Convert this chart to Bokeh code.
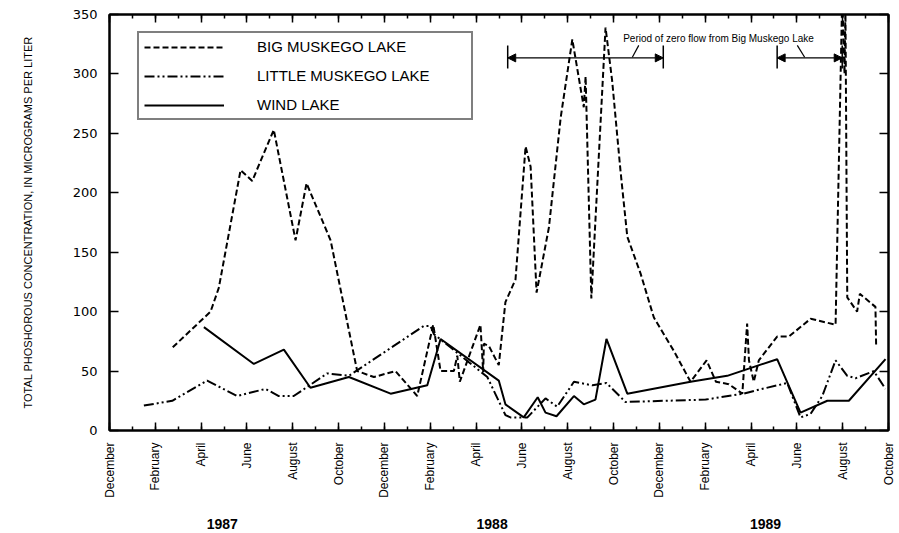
from math import pi
from bokeh.plotting import figure
from bokeh.models import (Range1d, LinearAxis, FixedTicker, Legend, LegendItem,
                          Arrow, NormalHead, Label)
from bokeh.embed import file_html
from bokeh.resources import INLINE

# x positions are months since 1 December 1986
tick_months = list(range(0, 35, 2))
tick_labels = ["December", "February", "April", "June", "August", "October",
               "December", "February", "April", "June", "August", "October",
               "December", "February", "April", "June", "August", "October"]
year_pos = [4.92, 16.7, 28.63]
year_labels = ["1987", "1988", "1989"]

big_x = [2.76, 4.41, 4.77, 5.72, 6.23, 7.17, 8.12, 8.60, 9.65, 10.81, 11.54, 12.48,
         13.43, 14.13, 14.45, 15.03, 15.18, 15.29, 16.19, 16.31, 16.34, 16.56, 16.99,
         17.28, 17.72, 18.16, 18.38, 18.64, 19.18, 19.69, 20.20, 20.70, 20.78, 21.03,
         21.65, 21.94, 22.30, 22.60, 23.18, 23.76, 24.63, 25.36, 26.06, 26.47, 27.03,
         27.62, 27.83, 27.91, 28.12, 28.34, 29.14, 29.65, 30.60, 31.69, 31.98, 32.08,
         32.12, 32.20, 32.63, 32.75, 33.43, 33.46]
big_y = [70, 100, 120, 219, 210, 253, 160, 208, 160, 50, 45, 50,
         29, 89, 50, 50, 63, 41, 89, 49, 73, 71, 55,
         108, 127, 239, 222, 116, 171, 263, 329, 272, 298, 111,
         339, 294, 219, 163, 132, 95, 67, 41, 59, 41, 39,
         31, 90, 59, 41, 59, 79, 79, 94, 89, 365, 300,
         355, 112, 100, 115, 104, 72]

little_x = [1.50, 2.74, 4.26, 5.57, 6.81, 7.39, 8.04, 9.50, 10.45, 13.72, 14.01, 14.16,
            14.88, 16.49, 17.28, 17.50, 18.24, 19.03, 19.54, 20.27, 21.08, 21.69, 22.52,
            26.02, 26.67, 27.69, 28.27, 29.58, 30.16, 30.60, 31.11, 31.69, 32.20, 32.56,
            33.36, 33.87]
little_y = [21, 25, 42, 29, 35, 29, 29, 48, 46, 88, 88, 81,
            70, 45, 13, 11, 11, 27, 20, 41, 38, 40, 24,
            26, 28, 31, 34, 40, 11, 14, 29, 59, 46, 44,
            50, 35]

wind_x = [4.12, 6.30, 7.61, 8.77, 10.45, 12.27, 13.87, 14.45, 16.99, 17.28, 18.08,
          18.69, 19.03, 19.51, 20.27, 20.70, 21.21, 21.69, 22.60, 25.36, 26.96, 29.14,
          30.16, 31.33, 32.27, 33.87]
wind_y = [87, 56, 68, 36, 45, 31, 38, 77, 42, 22, 11,
          28, 15, 12, 29, 22, 26, 77, 31, 41, 46, 60,
          15, 25, 25, 60]

zero_flow_start = [17.38, 29.14]
zero_flow_end = [24.17, 31.98]
zero_flow_text = "Period of zero flow from Big Muskego Lake"

FONT = "Liberation Sans"

p = figure(width=899, height=533, output_backend="svg", toolbar_location=None,
           x_range=Range1d(0, 34), y_range=Range1d(0, 350),
           x_axis_type=None, y_axis_type=None,
           min_border_left=109, min_border_right=11, min_border_top=14,
           min_border_bottom=103)
p.background_fill_color = "white"
p.border_fill_color = "white"
p.outline_line_color = "black"
p.outline_line_width = 2
p.xgrid.visible = False
p.ygrid.visible = False

minor_months = list(range(0, 35))

def style_x(ax):
    ax.ticker = FixedTicker(ticks=tick_months, minor_ticks=minor_months)
    ax.axis_line_width = 2
    ax.major_tick_in = 8
    ax.major_tick_out = 0
    ax.minor_tick_in = 4
    ax.minor_tick_out = 0
    ax.major_tick_line_width = 1.5
    ax.minor_tick_line_width = 1.5

# bottom month axis
xb = LinearAxis()
style_x(xb)
xb.major_label_overrides = {m: lab for m, lab in zip(tick_months, tick_labels)}
xb.major_label_orientation = pi / 2
xb.major_label_standoff = 12
xb.major_label_text_font = FONT
xb.major_label_text_font_size = "12px"
xb.major_label_text_color = "black"
p.add_layout(xb, "below")

# bottom year axis
xy = LinearAxis(ticker=FixedTicker(ticks=year_pos))
xy.major_label_overrides = {pos: lab for pos, lab in zip(year_pos, year_labels)}
xy.axis_line_color = None
xy.major_tick_line_color = None
xy.minor_tick_line_color = None
xy.major_label_standoff = 12
xy.major_label_text_font = FONT
xy.major_label_text_font_size = "14px"
xy.major_label_text_font_style = "bold"
xy.major_label_text_color = "black"
p.add_layout(xy, "below")

# top axis (ticks only)
xt = LinearAxis()
style_x(xt)
xt.major_label_overrides = {m: "" for m in tick_months}
xt.major_label_text_color = None
xt.major_label_text_font_size = "1px"
xt.major_label_standoff = 0
p.add_layout(xt, "above")

y_ticks = list(range(0, 351, 50))
yl = LinearAxis(ticker=FixedTicker(ticks=y_ticks))
yl.axis_line_width = 2
yl.major_tick_in = 9
yl.major_tick_out = 0
yl.minor_tick_line_color = None
yl.major_tick_line_width = 1.5
yl.major_label_standoff = 12
yl.major_label_text_font = "DejaVu Sans"
yl.major_label_text_font_size = "13px"
yl.major_label_text_color = "black"
yl.axis_label = "TOTAL PHOSHOROUS CONCENTRATION, IN MICROGRAMS PER LITER"
yl.axis_label_text_font = FONT
yl.axis_label_text_font_size = "11px"
yl.axis_label_text_font_style = "normal"
yl.axis_label_text_color = "black"
yl.axis_label_standoff = 36
p.add_layout(yl, "left")

yr = LinearAxis(ticker=FixedTicker(ticks=y_ticks))
yr.axis_line_width = 2
yr.major_tick_in = 9
yr.major_tick_out = 0
yr.minor_tick_line_color = None
yr.major_tick_line_width = 1.5
yr.major_label_overrides = {t: "" for t in y_ticks}
yr.major_label_text_color = None
yr.major_label_text_font_size = "1px"
yr.major_label_standoff = 0
p.add_layout(yr, "right")

r_big = p.line(big_x, big_y, line_color="black", line_width=2, line_dash="6 3")
r_little = p.line(little_x, little_y, line_color="black", line_width=2,
                  line_dash="10 3 2 3 2 3")
r_wind = p.line(wind_x, wind_y, line_color="black", line_width=2)

legend = Legend(items=[LegendItem(label="BIG MUSKEGO LAKE", renderers=[r_big]),
                       LegendItem(label="LITTLE MUSKEGO LAKE", renderers=[r_little]),
                       LegendItem(label="WIND LAKE", renderers=[r_wind])],
                location=(28, 310), margin=0, padding=5, spacing=12,
                glyph_width=80, glyph_height=16, label_height=16, label_width=209,
                label_standoff=33, label_text_font=FONT, label_text_font_size="15px",
                label_text_color="black", border_line_color="black",
                border_line_width=2, background_fill_color="white",
                background_fill_alpha=1)
p.add_layout(legend)

# zero-flow period brackets
bar_lo, bar_hi, arrow_y = 304.6, 324.0, 313.5
p.segment(x0=zero_flow_start + zero_flow_end, y0=[bar_lo] * 4,
          x1=zero_flow_start + zero_flow_end, y1=[bar_hi] * 4,
          line_color="black", line_width=1.5)
for xs, xe in zip(zero_flow_start, zero_flow_end):
    p.add_layout(Arrow(x_start=xs, y_start=arrow_y, x_end=xe, y_end=arrow_y,
                       line_width=1.2, line_color="black",
                       start=NormalHead(size=8, fill_color="black", line_color="black"),
                       end=NormalHead(size=8, fill_color="black", line_color="black")))
p.segment(x0=[23.1, 30.02], y0=[324, 324], x1=[22.82, 30.34], y1=[314, 314],
          line_color="black", line_width=1.2)
p.add_layout(Label(x=22.42, y=330, text=zero_flow_text, text_font=FONT,
                   text_font_size="10px", text_baseline="middle",
                   text_color="black"))

open("out.html", "w").write(file_html(p, INLINE))
